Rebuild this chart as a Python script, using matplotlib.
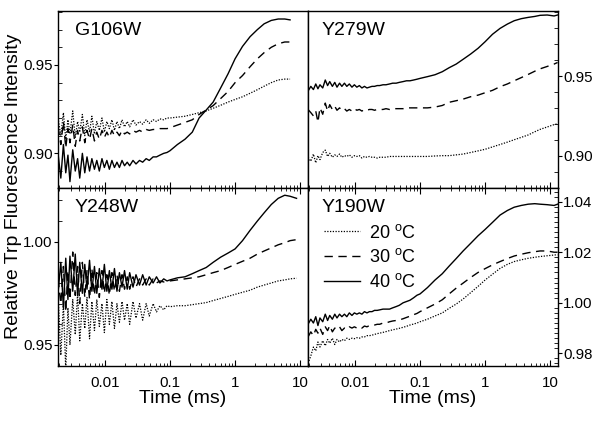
import matplotlib
matplotlib.use('Agg')
import matplotlib.pyplot as plt
from matplotlib.ticker import MultipleLocator, LogLocator, NullFormatter, FuncFormatter

plt.rcParams['font.family'] = ['Liberation Sans', 'DejaVu Sans']
plt.rcParams['mathtext.fontset'] = 'custom'
plt.rcParams['mathtext.rm'] = 'Liberation Sans'
plt.rcParams['mathtext.it'] = 'Liberation Sans:italic'

# ---------------- data (time in ms) ----------------
t_early = [0.0019, 0.0021, 0.0023, 0.0025, 0.0027, 0.0029, 0.0032, 0.0035, 0.0038, 0.0041,
           0.0045, 0.0049, 0.0053, 0.0058, 0.0063, 0.0069, 0.0075, 0.0082, 0.009, 0.0098,
           0.0107, 0.0117, 0.0128, 0.014, 0.0153, 0.0167, 0.0183, 0.02, 0.022, 0.024,
           0.027, 0.03, 0.034, 0.038, 0.043, 0.048, 0.055, 0.062, 0.07, 0.08, 0.09]
t_late_tl = [0.1, 0.13, 0.17, 0.22, 0.28, 0.36, 0.46, 0.6, 0.78, 1.0, 1.3, 1.7, 2.2, 2.8, 3.6, 4.6, 5.8, 7.0]
t_late_bl = [0.1, 0.13, 0.17, 0.22, 0.28, 0.36, 0.46, 0.6, 0.78, 1.0, 1.3, 1.7, 2.2, 2.8, 3.6, 4.6, 5.8, 7.0, 8.8]
t_late_r = [0.1, 0.13, 0.17, 0.22, 0.28, 0.36, 0.46, 0.6, 0.78, 1.0, 1.3, 1.7, 2.2, 2.8, 3.6, 4.6, 5.8, 7.0,
            9.0, 11.5, 13.0]

# G106W
g106w_20 = [0.920, 0.910, 0.923, 0.908, 0.919, 0.911, 0.924, 0.909, 0.918, 0.912,
            0.922, 0.910, 0.919, 0.912, 0.921, 0.911, 0.918, 0.913, 0.920, 0.912,
            0.918, 0.914, 0.919, 0.913, 0.918, 0.914, 0.919, 0.915, 0.918, 0.915,
            0.919, 0.916, 0.918, 0.9165, 0.919, 0.917, 0.919, 0.918, 0.9195, 0.919, 0.920,
            0.920, 0.9205, 0.921, 0.922, 0.923, 0.924, 0.9255, 0.9272, 0.929, 0.9305,
            0.932, 0.934, 0.936, 0.938, 0.940, 0.9415, 0.942, 0.942]
g106w_30 = [0.915, 0.905, 0.918, 0.903, 0.914, 0.906, 0.916, 0.904, 0.913, 0.907,
            0.915, 0.906, 0.913, 0.908, 0.914, 0.907, 0.912, 0.908, 0.913, 0.909,
            0.912, 0.909, 0.913, 0.910, 0.912, 0.910, 0.913, 0.911, 0.912, 0.911,
            0.913, 0.912, 0.913, 0.912, 0.9135, 0.913, 0.9135, 0.9135, 0.914, 0.914, 0.914,
            0.9145, 0.916, 0.9175, 0.919, 0.922, 0.9245, 0.927, 0.931, 0.935, 0.940,
            0.944, 0.949, 0.9535, 0.957, 0.960, 0.962, 0.963, 0.963]
g106w_40 = [0.900, 0.886, 0.905, 0.889, 0.899, 0.884, 0.902, 0.890, 0.897, 0.886,
            0.900, 0.889, 0.898, 0.890, 0.897, 0.891, 0.896, 0.890, 0.897, 0.892,
            0.896, 0.891, 0.896, 0.892, 0.895, 0.892, 0.896, 0.893, 0.895, 0.893,
            0.896, 0.894, 0.896, 0.895, 0.897, 0.896, 0.898, 0.898, 0.899, 0.900, 0.9005,
            0.9015, 0.905, 0.908, 0.912, 0.920, 0.9245, 0.929, 0.937, 0.945, 0.9535,
            0.9605, 0.966, 0.970, 0.9733, 0.9752, 0.976, 0.976, 0.9755]

# Y279W
y279w_20 = [0.899, 0.8965, 0.901, 0.8955, 0.900, 0.8975, 0.902, 0.9035, 0.8995, 0.9015,
            0.899, 0.9005, 0.8995, 0.901, 0.899, 0.900, 0.8995, 0.9005, 0.899, 0.900,
            0.8995, 0.900, 0.8985, 0.8995, 0.899, 0.8995, 0.899, 0.899, 0.8985, 0.899,
            0.899, 0.899, 0.8995, 0.8995, 0.8995, 0.8995, 0.8995, 0.8995, 0.8995, 0.8995, 0.8995,
            0.8995, 0.8995, 0.8998, 0.900, 0.900, 0.9005, 0.901, 0.902, 0.903, 0.904,
            0.9055, 0.907, 0.9085, 0.910, 0.9115, 0.913, 0.915, 0.9165, 0.918, 0.9195, 0.920]
y279w_30 = [0.929, 0.927, 0.925, 0.928, 0.921, 0.930, 0.926, 0.933, 0.928, 0.932,
            0.929, 0.931, 0.9285, 0.930, 0.9285, 0.9295, 0.928, 0.929, 0.928, 0.9295,
            0.9285, 0.929, 0.928, 0.929, 0.9285, 0.929, 0.929, 0.9285, 0.929, 0.929,
            0.929, 0.9295, 0.929, 0.9295, 0.9295, 0.9295, 0.9295, 0.930, 0.930, 0.930, 0.930,
            0.930, 0.930, 0.9305, 0.9315, 0.9335, 0.9345, 0.9355, 0.937, 0.938, 0.9395,
            0.941, 0.9433, 0.945, 0.947, 0.949, 0.951, 0.953, 0.9545, 0.956, 0.9575, 0.9585]
y279w_40 = [0.9405, 0.9435, 0.9415, 0.945, 0.942, 0.9445, 0.9425, 0.9475, 0.944, 0.9465,
            0.9435, 0.946, 0.943, 0.9455, 0.9435, 0.9455, 0.9435, 0.945, 0.943, 0.9445,
            0.943, 0.944, 0.9425, 0.9435, 0.9425, 0.943, 0.9435, 0.9435, 0.944, 0.944,
            0.9445, 0.9445, 0.945, 0.9455, 0.9455, 0.946, 0.9465, 0.947, 0.947, 0.9475, 0.948,
            0.9485, 0.9496, 0.9508, 0.9527, 0.9552, 0.9575, 0.9605, 0.9638, 0.9674, 0.9715,
            0.9762, 0.9799, 0.9826, 0.9847, 0.986, 0.9868, 0.9874, 0.9881, 0.9883, 0.9877, 0.9883]

# Y248W
y248w_20 = [0.975, 0.945, 0.970, 0.938, 0.968, 0.950, 0.972, 0.955, 0.975, 0.952,
            0.970, 0.958, 0.973, 0.953, 0.971, 0.957, 0.972, 0.959, 0.970, 0.956,
            0.972, 0.960, 0.971, 0.958, 0.970, 0.961, 0.971, 0.962, 0.970, 0.960,
            0.971, 0.963, 0.970, 0.962, 0.970, 0.964, 0.970, 0.966, 0.969, 0.967, 0.969,
            0.9685, 0.969, 0.969, 0.9695, 0.970, 0.9705, 0.9715, 0.9725, 0.9735, 0.9745,
            0.9755, 0.9765, 0.978, 0.979, 0.980, 0.981, 0.9815, 0.982, 0.9823]
y248w_30 = [0.982, 0.970, 0.988, 0.966, 0.986, 0.972, 0.995, 0.974, 0.988, 0.970,
            0.990, 0.973, 0.986, 0.972, 0.987, 0.974, 0.985, 0.973, 0.986, 0.975,
            0.984, 0.974, 0.985, 0.976, 0.984, 0.976, 0.984, 0.977, 0.983, 0.977,
            0.983, 0.978, 0.982, 0.979, 0.982, 0.979, 0.982, 0.980, 0.981, 0.9805, 0.981,
            0.981, 0.9815, 0.982, 0.9825, 0.983, 0.984, 0.985, 0.986, 0.9875, 0.989,
            0.9905, 0.992, 0.994, 0.9955, 0.997, 0.9985, 0.9995, 1.0005, 1.001]
y248w_40 = [0.975, 0.990, 0.968, 0.992, 0.972, 0.993, 0.976, 0.994, 0.974, 0.990,
            0.975, 0.989, 0.977, 0.991, 0.976, 0.988, 0.975, 0.987, 0.977, 0.989,
            0.976, 0.986, 0.977, 0.987, 0.976, 0.985, 0.978, 0.986, 0.977, 0.985,
            0.978, 0.984, 0.979, 0.984, 0.979, 0.983, 0.980, 0.983, 0.980, 0.982, 0.981,
            0.9815, 0.9825, 0.983, 0.9845, 0.986, 0.9875, 0.990, 0.9925, 0.9945, 0.9965,
            1.0005, 1.0055, 1.010, 1.014, 1.018, 1.021, 1.0225, 1.022, 1.021]

# Y190W
y190w_20 = [0.9760, 0.979, 0.9825, 0.981, 0.9845, 0.9825, 0.985, 0.983, 0.9855, 0.984,
            0.986, 0.9835, 0.9855, 0.9845, 0.9855, 0.985, 0.986, 0.9855, 0.986, 0.9858,
            0.9862, 0.986, 0.9865, 0.9865, 0.987, 0.987, 0.9872, 0.9875, 0.9878, 0.988,
            0.9883, 0.9886, 0.989, 0.9893, 0.9896, 0.9899, 0.9903, 0.9907, 0.9912, 0.9916, 0.992,
            0.9925, 0.9935, 0.9948, 0.996, 0.9978, 0.9995, 1.0015, 1.004, 1.0065, 1.009,
            1.0113, 1.0136, 1.0152, 1.0163, 1.017, 1.0176, 1.018, 1.0183, 1.0186, 1.0189, 1.019]
y190w_30 = [0.9865, 0.9885, 0.987, 0.9895, 0.988, 0.990, 0.9875, 0.9905, 0.989, 0.991,
            0.9885, 0.990, 0.9895, 0.9905, 0.989, 0.990, 0.9895, 0.9905, 0.990, 0.9905,
            0.990, 0.9905, 0.990, 0.9908, 0.9905, 0.991, 0.991, 0.9912, 0.9915, 0.9915,
            0.992, 0.992, 0.9925, 0.9928, 0.993, 0.9932, 0.9937, 0.9942, 0.9947, 0.9953, 0.9958,
            0.9965, 0.998, 0.9995, 1.0012, 1.0035, 1.0058, 1.0078, 1.010, 1.012, 1.0135,
            1.015, 1.0163, 1.0175, 1.0185, 1.0192, 1.0198, 1.0202, 1.0205, 1.0205, 1.020, 1.020]
y190w_40 = [0.9915, 0.9935, 0.992, 0.9945, 0.991, 0.994, 0.9925, 0.9955, 0.993, 0.995,
            0.9935, 0.9955, 0.994, 0.9955, 0.9945, 0.9955, 0.9945, 0.996, 0.995, 0.996,
            0.9955, 0.996, 0.9955, 0.9965, 0.996, 0.9965, 0.9965, 0.997, 0.997, 0.9972,
            0.9975, 0.9975, 0.9975, 0.998, 0.9985, 0.999, 1.000, 1.0005, 1.001, 1.002, 1.003,
            1.0035, 1.006, 1.009, 1.0115, 1.0145, 1.0175, 1.0205, 1.0235, 1.0265, 1.029,
            1.0318, 1.0347, 1.0365, 1.0378, 1.0385, 1.039, 1.0392, 1.039, 1.0388, 1.0385, 1.039]

legend_labels = [r'20 $^{\rm o}$C', r'30 $^{\rm o}$C', r'40 $^{\rm o}$C']
panel_names = ['G106W', 'Y279W', 'Y248W', 'Y190W']

# ---------------- figure ----------------
fig = plt.figure(figsize=(6, 4.24), dpi=100)
L, M, R = 58 / 600, 308 / 600, 558 / 600
T, C, B = 1 - 10.7 / 424, 1 - 188 / 424, 1 - 366 / 424
ax_tl = fig.add_axes([L, C, M - L, T - C])
ax_tr = fig.add_axes([M, C, R - M, T - C])
ax_bl = fig.add_axes([L, B, M - L, C - B])
ax_br = fig.add_axes([M, B, R - M, C - B])

styles = [dict(ls=(0, (1, 1.2)), lw=0.9), dict(ls=(0, (6, 4)), lw=1.0), dict(ls='-', lw=1.0)]

panels = [
    (ax_tl, t_early + t_late_tl, [g106w_20, g106w_30, g106w_40], (0.8804, 0.9807), 0.05, 0.01),
    (ax_tr, t_early + t_late_r, [y279w_20, y279w_30, y279w_40], (0.8797, 0.991), 0.05, 0.01),
    (ax_bl, t_early + t_late_bl, [y248w_20, y248w_30, y248w_40], (0.9398, 1.026), 0.05, 0.01),
    (ax_br, t_early + t_late_r, [y190w_20, y190w_30, y190w_40], (0.975, 1.0454), 0.02, 0.002),
]

fmt = FuncFormatter(lambda v, p: f'{v:g}')
for i, (ax, t, series, ylim, major, minor) in enumerate(panels):
    lines = []
    for s, st, lab in zip(series, styles, legend_labels):
        ln, = ax.plot(t, s, color='black', label=lab, **st)
        lines.append(ln)
    ax.set_xscale('log')
    ax.set_xlim(0.0019, 13.2)
    ax.set_ylim(*ylim)
    ax.yaxis.set_major_locator(MultipleLocator(major))
    ax.yaxis.set_minor_locator(MultipleLocator(minor))
    ax.yaxis.set_major_formatter(FuncFormatter(lambda v, p: f'{v:.2f}'))
    ax.xaxis.set_major_locator(LogLocator(base=10, numticks=20))
    ax.xaxis.set_minor_locator(LogLocator(base=10, subs=range(2, 10), numticks=20))
    ax.xaxis.set_minor_formatter(NullFormatter())
    ax.xaxis.set_major_formatter(fmt)
    bottom_row = i >= 2
    right_col = i % 2 == 1
    ax.tick_params(axis='x', which='both', direction='in', bottom=True, top=bottom_row,
                   labelbottom=bottom_row, labelsize=10.8, pad=7)
    ax.tick_params(axis='x', which='major', length=4.5, width=0.8)
    ax.tick_params(axis='x', which='minor', length=2.5, width=0.6)
    ax.tick_params(axis='y', which='both', left=not right_col, right=right_col,
                   labelleft=not right_col, labelright=right_col, labelsize=10.8)
    ax.tick_params(axis='y', which='major', direction='out', length=3, width=0.8, pad=0.8)
    ax.tick_params(axis='y', which='minor', direction='in', length=3, width=0.6)
    for sp in ax.spines.values():
        sp.set_linewidth(1.0)
    if bottom_row:
        ax.set_xlabel('Time (ms)', fontsize=14, labelpad=0)
    tx = 0.066 if not right_col else 0.056
    ax.text(tx, 0.89, panel_names[i], transform=ax.transAxes, fontsize=14, va='center', ha='left')
    if i == 3:
        ax.legend(handles=lines, loc='upper left', bbox_to_anchor=(0.062, 0.80), frameon=False,
                  fontsize=13, handlelength=2.0, handletextpad=0.5, labelspacing=0.38,
                  borderpad=0, borderaxespad=0)

fig.text(14 / 600, 1 - 186 / 424, 'Relative Trp Fluorescence Intensity', rotation=90,
         ha='center', va='center', fontsize=14)

fig.savefig('out.png', dpi=100)
